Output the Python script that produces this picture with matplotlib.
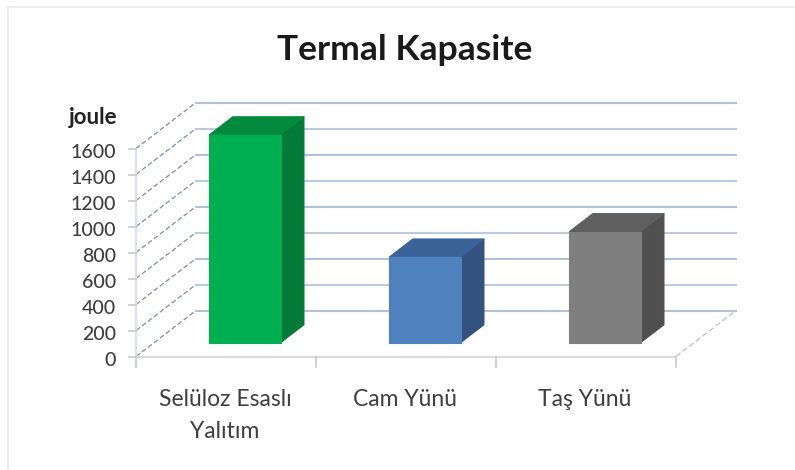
import numpy as np
import matplotlib
matplotlib.use("Agg")
import matplotlib.pyplot as plt
from matplotlib.patches import Polygon

plt.rcParams['font.family'] = ['Lato', 'DejaVu Sans']

categories = ["Selüloz Esaslı\nYalıtım", "Cam Yünü", "Taş Yünü"]
values = [1600, 660, 855]
yticks = [0, 200, 400, 600, 800, 1000, 1200, 1400, 1600]
front_colors = ["#00b050", "#4f81bd", "#7f7f7f"]
top_colors = ["#048a3f", "#3b6399", "#5f5f5f"]
side_colors = ["#037a38", "#32527f", "#505050"]

W, H = 795, 470
fig = plt.figure(figsize=(W / 100, H / 100), dpi=100)

# faint frame of the original picture, top and left only
fig.add_artist(plt.Line2D([8 / W, 8 / W], [0, 1 - 7 / H], color="#eeeeee", lw=1.6))
fig.add_artist(plt.Line2D([8 / W, 1], [1 - 7 / H, 1 - 7 / H], color="#eeeeee", lw=1.6))

# axes = front plane of the 3d box
ax = fig.add_axes([136 / W, 1 - 356.5 / H, 540 / W, 208 / H])
ax.set_xlim(0, 3)
ax.set_ylim(0, 1600)
ax.axis("off")

# depth shear in data units (60 px right, 46 px up for the full depth)
dx_full = 60 / 180
dy_full = 46 / 0.13


def proj(x, y, d):
    return x + d * dx_full, y + d * dy_full


# walls
for i, t in enumerate(yticks):
    x0, y0 = proj(0, t, 0)
    x1, y1 = proj(0, t, 1)
    x2, y2 = proj(3, t, 1)
    ax.plot([x0, x1], [y0, y1], color="#7f8ca3", lw=0.9, ls=(0, (4, 2)), clip_on=False, zorder=1)
    ax.plot([x1, x2], [y1, y2], color="#bccae0" if i % 2 else "#b2c1da", lw=1.5, clip_on=False, zorder=1)

# floor right edge, front edge and y axis
xa, ya = proj(3, 0, 0)
xb, yb = proj(3, 0, 1)
ax.plot([xa, xb], [ya, yb], color="#c4c4c4", lw=1.0, ls=(0, (4, 2)), clip_on=False, zorder=1)
ax.plot([0, 3], [0, 0], color="#dcdcdc", lw=1.6, clip_on=False, zorder=2)
ax.plot([0, 0], [0, 1600], color="#dde0e6", lw=1.6, clip_on=False, zorder=2)

# ticks
for t in yticks:
    ax.plot([-7 / 180, 0], [t, t], color="#c8c8c8", lw=1.2, clip_on=False, zorder=2)
    ax.text(-20 / 180, t - 4 / 0.13, str(t), ha="right", va="center", fontsize=14, fontweight="medium", color="#3f3f3f")
for k in range(4):
    ax.plot([k, k], [0, -10 / 0.13], color="#c8c8c8", lw=1.2, clip_on=False, zorder=2)

# bars
bar_w = 0.395
d0, d1 = 0.30, 0.69
for i, v in enumerate(values):
    left, right = i + 0.5 - bar_w / 2 + 1 / 180, i + 0.5 + bar_w / 2 + 1 / 180
    front = [proj(left, 0, d0), proj(right, 0, d0), proj(right, v, d0), proj(left, v, d0)]
    side = [proj(right, 0, d0), proj(right, 0, d1), proj(right, v, d1), proj(right, v, d0)]
    top = [proj(left, v, d0), proj(right, v, d0), proj(right, v, d1), proj(left, v, d1)]
    ax.add_patch(Polygon(front, fc=front_colors[i], ec=front_colors[i], lw=0.8, clip_on=False, zorder=4, joinstyle="round"))
    ax.add_patch(Polygon(side, fc=side_colors[i], ec=side_colors[i], lw=0.8, clip_on=False, zorder=3, joinstyle="round"))
    ax.add_patch(Polygon(top, fc=top_colors[i], ec=top_colors[i], lw=0.8, clip_on=False, zorder=3, joinstyle="round"))

    ax.text(i + 0.5 - 1 / 180, -32 / 0.13, categories[i], ha="center", va="top", fontsize=16.5, color="#3f3f3f", linespacing=1.67)

fig.text(405 / W, 1 - 50 / H, "Termal Kapasite", ha="center", va="center", fontsize=25.5, fontweight="bold", color="#1a1a1a")
fig.text(93 / W, 1 - 117 / H, "joule", ha="center", va="center", fontsize=16, fontweight="bold", color="#222222")

fig.savefig("out.png", dpi=100)
